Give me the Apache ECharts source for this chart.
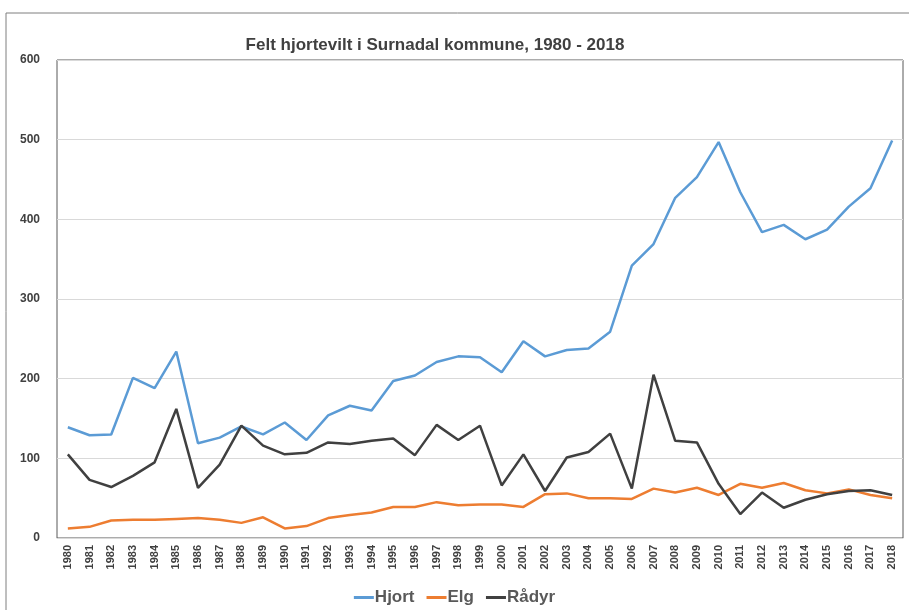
<!DOCTYPE html>
<html>
<head>
<meta charset="utf-8">
<script src="https://cdn.jsdelivr.net/npm/echarts@6/dist/echarts.min.js"></script>
<style>
  html, body { margin: 0; padding: 0; background: #fff; }
  #main { width: 909px; height: 610px; }
</style>
</head>
<body>
<div id="main"></div>
<script>
// år 1980 - 2018
var years = [];
for (var y = 1980; y <= 2018; y++) years.push(String(y));

var hjort = [139, 129, 130, 201, 188, 234, 119, 126, 140, 130, 145, 123, 154, 166, 160, 197, 204, 221, 228, 227,
             208, 247, 228, 236, 238, 259, 342, 369, 427, 453, 497, 434, 384, 393, 375, 387, 416, 439, 499];
var elg = [12, 14, 22, 23, 23, 24, 25, 23, 19, 26, 12, 15, 25, 29, 32, 39, 39, 45, 41, 42,
           42, 39, 55, 56, 50, 50, 49, 62, 57, 63, 54, 68, 63, 69, 60, 56, 61, 54, 50];
var radyr = [105, 73, 64, 78, 95, 162, 63, 92, 141, 116, 105, 107, 120, 118, 122, 125, 104, 142, 123, 141,
             66, 105, 59, 101, 108, 131, 62, 205, 122, 120, 68, 30, 57, 38, 48, 55, 59, 60, 54];

var font = "'Liberation Sans Narrow', 'Arial Narrow', 'Liberation Sans', sans-serif";

var myChart = echarts.init(document.getElementById('main'));

var option = {
    backgroundColor: '#fff',
    animation: false,
    textStyle: { fontFamily: font },
    title: {
        text: 'Felt hjortevilt i Surnadal kommune, 1980 - 2018',
        left: 430,
        textAlign: 'center',
        top: 32,
        textStyle: { fontSize: 17, fontWeight: 'bold', color: '#404040', fontFamily: font }
    },
    legend: {
        bottom: -1,
        left: 'center',
        icon: 'rect',
        itemWidth: 20,
        itemHeight: 3,
        itemGap: 12,
        textStyle: { fontSize: 17, fontWeight: 'bold', color: '#595959', padding: [0, 0, 0, -4] },
        data: ['Hjort', 'Elg', 'Rådyr']
    },
    grid: {
        left: 57, right: 6, top: 60, bottom: 72,
        show: true,
        borderColor: '#595959',
        borderWidth: 1
    },
    graphic: [
        { type: 'line', shape: { x1: 6, y1: 13, x2: 909, y2: 13 }, style: { stroke: '#7f7f7f', lineWidth: 1 } },
        { type: 'line', shape: { x1: 6, y1: 13, x2: 6, y2: 610 }, style: { stroke: '#7f7f7f', lineWidth: 1 } }
    ],
    xAxis: {
        type: 'category',
        data: years,
        boundaryGap: true,
        axisLine: { lineStyle: { color: '#d9d9d9' } },
        axisTick: { show: false },
        axisLabel: { rotate: 90, interval: 0, fontSize: 11, fontWeight: 'bold', color: '#404040', margin: 7 }
    },
    yAxis: {
        type: 'value',
        min: 0, max: 600, interval: 100,
        axisLine: { show: false },
        axisTick: { show: false },
        splitLine: { lineStyle: { color: '#d9d9d9' } },
        axisLabel: { fontSize: 12, fontWeight: 'bold', color: '#404040', margin: 17 }
    },
    series: [
        { name: 'Hjort', type: 'line', data: hjort, symbol: 'none', color: '#5b9bd5', lineStyle: { width: 2.5 } },
        { name: 'Elg', type: 'line', data: elg, symbol: 'none', color: '#ed7d31', lineStyle: { width: 2.5 } },
        { name: 'Rådyr', type: 'line', data: radyr, symbol: 'none', color: '#404040', lineStyle: { width: 2.5 } }
    ]
};

myChart.setOption(option);
</script>
</body>
</html>
